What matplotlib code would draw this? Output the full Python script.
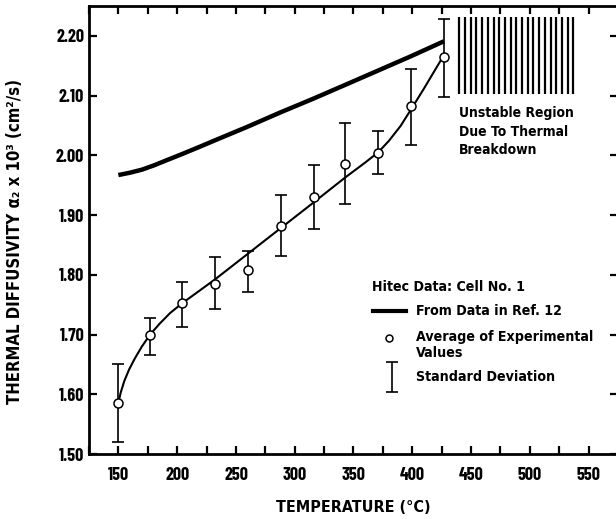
import matplotlib
matplotlib.use("Agg")
import matplotlib.pyplot as plt
import numpy as np

# condensed bold type like the old report
plt.rcParams['font.family'] = ['DejaVu Sans']
plt.rcParams['font.stretch'] = 'condensed'
plt.rcParams['font.weight'] = 'bold'
plt.rcParams['axes.labelweight'] = 'bold'

# experimental averages and standard deviation bounds
temp_exp = [150, 177, 204, 232, 260, 288, 316, 343, 371, 399, 427]
alpha_exp = [1.586, 1.699, 1.752, 1.785, 1.808, 1.882, 1.930, 1.986, 2.004, 2.082, 2.164]
alpha_hi = [1.650, 1.728, 1.788, 1.829, 1.840, 1.933, 1.983, 2.054, 2.040, 2.144, 2.228]
alpha_lo = [1.520, 1.666, 1.713, 1.743, 1.772, 1.831, 1.876, 1.919, 1.968, 2.018, 2.097]

# fitted curve through the experimental data
temp_fit = [150, 152, 155, 159, 164, 170, 177, 185, 194, 204, 218, 232, 260, 288, 316,
            343, 360, 371, 380, 390, 399, 410, 420, 427]
alpha_fit = [1.586, 1.603, 1.622, 1.641, 1.660, 1.680, 1.700, 1.718, 1.736, 1.752, 1.772,
             1.792, 1.835, 1.878, 1.921, 1.963, 1.988, 2.005, 2.024, 2.049, 2.077, 2.112,
             2.145, 2.168]

# curve from data in Ref. 12
temp_ref = [150, 160, 170, 180, 190, 204, 220, 232, 260, 288, 316, 343, 371, 399, 427]
alpha_ref = [1.967, 1.971, 1.976, 1.983, 1.991, 2.002, 2.015, 2.025, 2.048, 2.072, 2.095,
             2.118, 2.142, 2.166, 2.191]

# unstable region (temperature span, diffusivity span)
unstable_t = (440, 537)
unstable_a = (2.102, 2.232)

fig = plt.figure(figsize=(6.16, 5.19), dpi=100)
ax = fig.add_axes([89 / 616, 65 / 519, 529 / 616, 448 / 519])

ax.plot(temp_ref, alpha_ref, color='black', lw=3.2, solid_capstyle='butt')
ax.plot(temp_fit, alpha_fit, color='black', lw=1.5)
yerr = [np.array(alpha_exp) - np.array(alpha_lo), np.array(alpha_hi) - np.array(alpha_exp)]
ax.errorbar(temp_exp, alpha_exp, yerr=yerr, fmt='none', ecolor='black', elinewidth=1.2,
            capsize=4, capthick=1.2)
ax.plot(temp_exp, alpha_exp, 'o', ms=6.5, mfc='white', mec='black', mew=1.1, zorder=5)

ax.vlines(np.linspace(unstable_t[0], unstable_t[1], 21), unstable_a[0], unstable_a[1],
          color='black', lw=1.6)
ax.text(440, 2.082, 'Unstable Region\nDue To Thermal\nBreakdown', fontsize=10,
        va='top', ha='left', linespacing=1.4)

# hand-made key
ax.text(365.5, 1.779, 'Hitec Data: Cell No. 1', fontsize=10.2, va='center')
ax.plot([366.5, 395], [1.739, 1.739], color='black', lw=3)
ax.text(403, 1.739, 'From Data in Ref. 12', fontsize=10.2, va='center')
ax.plot([380.5], [1.695], 'o', ms=5, mfc='white', mec='black', mew=1.1)
ax.text(403, 1.708, 'Average of Experimental\nValues', fontsize=10.2, va='top',
        linespacing=1.2)
ax.errorbar([383], [1.629], yerr=[[0.025], [0.025]], fmt='none', ecolor='black',
            elinewidth=1.2, capsize=4, capthick=1.2)
ax.text(403, 1.629, 'Standard Deviation', fontsize=10.2, va='center')

ax.set_xlim(125, 575)
ax.set_ylim(1.50, 2.25)
ax.set_xticks(np.arange(150, 551, 50))
ax.set_xticks(np.arange(125, 576, 25), minor=True)
ax.set_yticks(np.arange(1.50, 2.21, 0.10))
ax.set_yticklabels(['%.2f' % v for v in np.arange(1.50, 2.21, 0.10)])
ax.tick_params(which='both', direction='in', top=True, right=True, length=6, width=1.6,
               labelsize=13)
ax.tick_params(axis='x', pad=9)
for lbl in ax.get_xticklabels() + ax.get_yticklabels():
    lbl.set_fontfamily('Barlow Condensed')
    lbl.set_fontweight('bold')
for s in ax.spines.values():
    s.set_linewidth(2)

ax.set_xlabel('TEMPERATURE (°C)', fontsize=11.5, labelpad=12)
ax.set_ylabel('THERMAL DIFFUSIVITY α₂ x 10³ (cm²/s)', fontsize=12)
ax.yaxis.set_label_coords(-0.122, 0.475)

fig.savefig('out.png', dpi=100)
